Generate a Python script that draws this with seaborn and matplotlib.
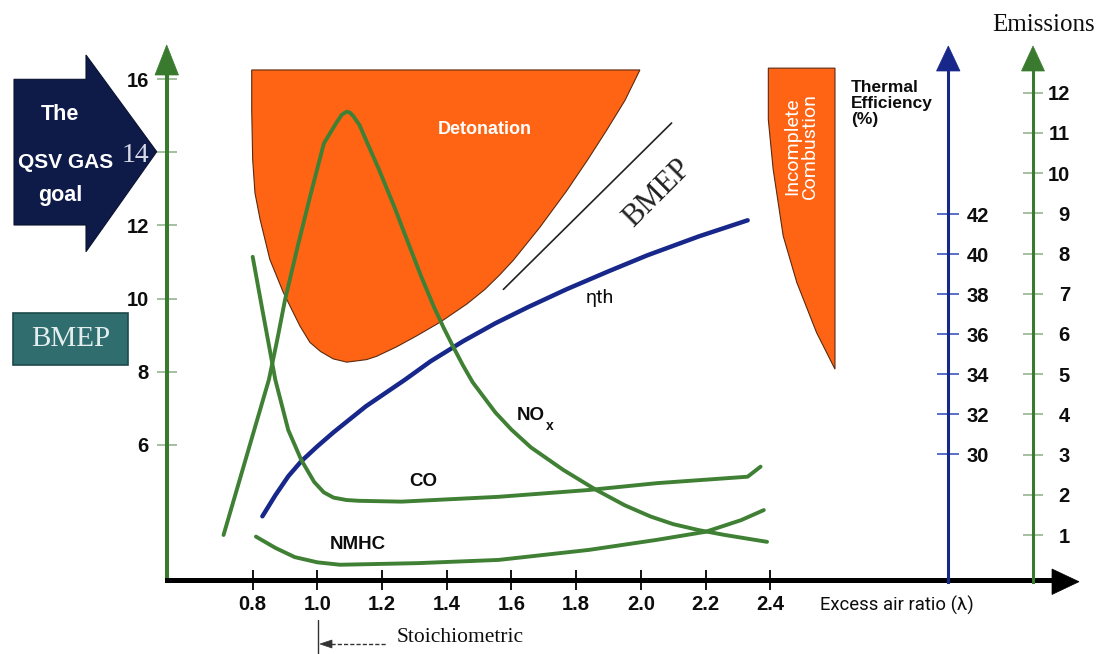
import matplotlib
matplotlib.use("Agg")
import matplotlib.pyplot as plt
import matplotlib.transforms as mtransforms
from matplotlib.patches import Polygon, Rectangle
import seaborn as sns

# ---------------- data ----------------
lam_ticks = [0.8, 1.0, 1.2, 1.4, 1.6, 1.8, 2.0, 2.2, 2.4]
bmep_ticks = [6, 8, 10, 12, 14, 16]
eff_ticks = [30, 32, 34, 36, 38, 40, 42]
em_ticks = [1, 2, 3, 4, 5, 6, 7, 8, 9, 10, 11, 12]

# thermal efficiency (%) vs excess air ratio
eta_lam = [0.83, 0.87, 0.91, 0.95, 1.00, 1.05, 1.15, 1.27, 1.35, 1.45, 1.55, 1.65, 1.77,
           1.90, 2.02, 2.18, 2.33]
eta_eff = [26.9, 27.95, 28.9, 29.65, 30.4, 31.1, 32.4, 33.72, 34.65, 35.65, 36.55, 37.35,
           38.25, 39.15, 39.95, 40.9, 41.7]

# emissions (relative units)
nox_lam = [0.71, 0.85, 0.875, 0.90, 0.94, 0.98, 1.02, 1.06, 1.075, 1.09, 1.10, 1.11, 1.13,
           1.15, 1.19, 1.24, 1.28, 1.32, 1.36, 1.39, 1.42, 1.45, 1.48, 1.55, 1.60, 1.66,
           1.76, 1.86, 1.95, 2.03, 2.10, 2.18, 2.26, 2.39]
nox_em = [1.00, 4.86, 5.82, 6.85, 8.21, 9.50, 10.74, 11.27, 11.45, 11.53, 11.51, 11.43, 11.20,
          10.83, 10.10, 9.12, 8.28, 7.45, 6.68, 6.16, 5.68, 5.22, 4.80, 4.05, 3.62, 3.18,
          2.62, 2.13, 1.74, 1.46, 1.27, 1.12, 1.00, 0.83]

co_lam = [0.80, 0.83, 0.87, 0.91, 0.95, 0.99, 1.02, 1.05, 1.09, 1.13, 1.26, 1.56, 1.84,
          2.05, 2.33, 2.37]
co_em = [7.92, 6.60, 4.86, 3.61, 2.87, 2.32, 2.06, 1.93, 1.87, 1.85, 1.83, 1.95, 2.12,
         2.29, 2.45, 2.70]

nmhc_lam = [0.81, 0.87, 0.93, 1.00, 1.07, 1.31, 1.56, 1.84, 2.05, 2.20, 2.31, 2.38]
nmhc_em = [0.96, 0.68, 0.45, 0.32, 0.26, 0.30, 0.38, 0.63, 0.88, 1.08, 1.37, 1.62]

# regions in BMEP units
deton_lam = [0.797, 0.797, 0.800, 0.807, 0.823, 0.853, 0.895, 0.946, 0.977, 1.010, 1.049,
             1.091, 1.152, 1.183, 1.245, 1.307, 1.379, 1.462, 1.518, 1.564, 1.606, 1.688,
             1.771, 1.836, 1.894, 1.951, 1.997]
deton_bmep = [16.25, 15.16, 13.80, 12.89, 12.16, 11.07, 10.16, 9.25, 8.80, 8.55, 8.35,
              8.26, 8.33, 8.42, 8.68, 8.98, 9.35, 9.85, 10.25, 10.65, 11.05, 11.95,
              12.95, 13.80, 14.60, 15.42, 16.25]

incomp_lam = [2.394, 2.600, 2.600, 2.543, 2.482, 2.440, 2.409, 2.394]
incomp_bmep = [16.30, 16.30, 8.07, 9.07, 10.44, 11.71, 13.53, 14.89]

bmep_line_lam = [1.575, 2.095]
bmep_line_val = [10.25, 14.80]

# ---------------- style ----------------
sns.set_theme(style="white")
COND = ["Roboto", "DejaVu Sans"]
SERIF = ["Liberation Serif", "DejaVu Serif"]
SANS = ["Liberation Sans", "DejaVu Sans"]
plt.rcParams["font.family"] = COND

GREEN_AX = "#3a7a2e"
GREEN = "#3f8034"
BLUE = "#17278a"
ORANGE = "#ff6414"
NAVY = "#0e1a48"
TEAL = "#2f6d6e"
INK = "#0d0d0d"

W, H = 1097, 654
fig = plt.figure(figsize=(W / 100, H / 100), dpi=100)
pix = mtransforms.Affine2D().scale(1 / W, -1 / H).translate(0, 1) + fig.transFigure

ax = fig.add_axes([0, 0, 1, 1])
ax2 = ax.twinx()
ax3 = ax.twinx()
for a in (ax, ax2, ax3):
    a.patch.set_visible(False)
    for s in a.spines.values():
        s.set_visible(False)

# ---------------- regions & lines ----------------
ax.fill(deton_lam, deton_bmep, facecolor=ORANGE, edgecolor="#5a2a10", lw=0.8, zorder=1)
ax.fill(incomp_lam, incomp_bmep, facecolor=ORANGE, edgecolor="#5a2a10", lw=0.8, zorder=1)
sns.lineplot(x=bmep_line_lam, y=bmep_line_val, ax=ax, color="#222222", lw=1.2,
             sort=False, estimator=None, legend=False)

sns.lineplot(x=eta_lam, y=eta_eff, ax=ax2, color=BLUE, lw=3.2, sort=False,
             estimator=None, legend=False)
for xs, ys in ((nox_lam, nox_em), (co_lam, co_em), (nmhc_lam, nmhc_em)):
    sns.lineplot(x=xs, y=ys, ax=ax3, color=GREEN, lw=2.8, sort=False,
                 estimator=None, legend=False)
for a in (ax2, ax3):
    for ln in a.get_lines():
        ln.set_solid_joinstyle("round")
        ln.set_solid_capstyle("round")

# ---------------- scales (calibrated to the picture) ----------------
ax.set_xlim(0.0189, 3.410)
ax.set_ylim(0.28, 18.163)
ax2.set_ylim(20.015, 52.715)
ax3.set_ylim(-1.960, 14.308)
for a in (ax, ax2, ax3):
    a.set_xlabel("")
    a.set_ylabel("")

TICKFONT = dict(fontfamily=SANS, fontweight="bold", fontsize=14.5, color=INK)

# main axes: lambda (bottom) and BMEP (left)
ax.spines["left"].set_visible(True)
ax.spines["left"].set_position(("data", 0.535))
ax.spines["left"].set_bounds(2.30, 16.17)
ax.spines["left"].set_color(GREEN_AX)
ax.spines["left"].set_linewidth(2.9)
ax.spines["bottom"].set_visible(True)
ax.spines["bottom"].set_position(("data", 2.30))
ax.spines["bottom"].set_bounds(0.535, 3.274)
ax.spines["bottom"].set_color("black")
ax.spines["bottom"].set_linewidth(3.6)

ax.set_xticks(lam_ticks, labels=[f"{v:.1f}" for v in lam_ticks], **TICKFONT)
ax.tick_params(axis="x", bottom=True, direction="inout", length=14, width=1.3,
               color="black", pad=4)
ax.set_yticks(bmep_ticks, labels=[str(v) for v in bmep_ticks], **TICKFONT)
ax.tick_params(axis="y", left=True, direction="inout", length=15, width=1.3,
               color="#9cbb98", pad=5.5)
lab14 = ax.get_yticklabels()[bmep_ticks.index(14)]
lab14.set_fontfamily(SERIF)
lab14.set_fontweight("normal")
lab14.set_fontsize(20)
lab14.set_color("#d6d9e6")

# thermal efficiency axis
ax2.spines["right"].set_visible(True)
ax2.spines["right"].set_position(("data", 2.949))
ax2.spines["right"].set_bounds(23.62, 49.2)
ax2.spines["right"].set_color(BLUE)
ax2.spines["right"].set_linewidth(2.2)
ax2.set_yticks(eff_ticks, labels=[str(v) for v in eff_ticks], **TICKFONT)
ax2.tick_params(axis="y", right=True, left=False, labelright=True, labelleft=False,
                direction="inout", length=16, width=1.3, color="#4a62c8", pad=5.5)

# emissions axis
ax3.spines["right"].set_visible(True)
ax3.spines["right"].set_position(("data", 3.212))
ax3.spines["right"].set_bounds(-0.16, 12.567)
ax3.spines["right"].set_color(GREEN_AX)
ax3.spines["right"].set_linewidth(2.2)
ax3.set_yticks(em_ticks, labels=[str(v) for v in em_ticks], ha="right", **TICKFONT)
ax3.tick_params(axis="y", right=True, left=False, labelright=True, labelleft=False,
                direction="inout", length=14.4, width=1.3, color="#9cbb98", pad=19.4)
for a in (ax2, ax3):
    a.tick_params(axis="x", bottom=False, labelbottom=False)

# ---------------- arrowheads & decorations (pixel layout) ----------------
def poly(pts, color, z=3):
    ax.add_patch(Polygon(pts, closed=True, transform=pix, facecolor=color,
                         edgecolor=color, lw=0.5, zorder=z, clip_on=False))

poly([(155, 75), (166.7, 45), (178.5, 75)], GREEN_AX)
poly([(936.5, 71), (948.3, 46), (960, 71)], BLUE)
poly([(1021.5, 71), (1033, 46), (1044.5, 71)], GREEN_AX)
poly([(1052, 569), (1079, 581.7), (1052, 594.5)], "black")

# navy "goal" arrow and BMEP box
ax.add_patch(Polygon([(14, 79.3), (86, 79.3), (86, 55), (156.7, 151.7), (86, 251.7),
                      (86, 225), (14, 225)], closed=True, transform=pix,
                     facecolor=NAVY, edgecolor="#0a1230", lw=0.8, zorder=0.2, clip_on=False))
ax.add_patch(Rectangle((12.7, 312.7), 115.6, 52.3, transform=pix, facecolor=TEAL,
                       edgecolor="#1d4a4a", lw=1.2, zorder=0.2, clip_on=False))

def txt(x, y, s, **kw):
    kw.setdefault("ha", "center")
    kw.setdefault("va", "center")
    return ax.text(x, y, s, transform=pix, **kw)

txt(60, 114, "The", color="white", fontsize=15.5, fontweight="bold", family=SANS)
txt(66, 163, "QSV GAS", color="white", fontsize=15, fontweight="bold", family=SANS)
txt(60, 196, "goal", color="white", fontsize=15.5, fontweight="bold", family=SANS)
txt(70.5, 339, "BMEP", color="#e4eeee", fontsize=21, family=SERIF)

# stoichiometric marker
ax.plot([318.3, 318.3], [620, 654], transform=pix, color="#333333", lw=1.0, clip_on=False)
ax.plot([331, 387], [644, 644], transform=pix, color="#333333", lw=1.0,
        ls=(0, (3, 1.5)), clip_on=False)
poly([(320, 644), (332, 640), (332, 648)], "#333333")
txt(397, 638, "Stoichiometric", ha="left", fontsize=15.5, family=SERIF, color=INK)

# labels
txt(820, 605, "Excess air ratio (\u03bb)", ha="left", fontsize=13.3, color=INK)
txt(1044, 25, "Emissions", fontsize=18, family=SERIF, color=INK)
txt(851, 80, "Thermal\nEfficiency\n(%)", ha="left", va="top", fontsize=12.5,
    fontweight="bold", family=SANS, linespacing=1.1, color=INK)
txt(485, 129, "Detonation", color="white", fontsize=13, fontweight="bold", family=SANS)
txt(801, 146, "Incomplete\nCombustion", color="white", fontsize=14, rotation=90,
    linespacing=1.0)
txt(657, 193, "BMEP", rotation=45, fontsize=22, family=SERIF, color="#222222")
txt(600, 298, "\u03b7th", fontsize=14, color=INK)
txt(531, 415, "NO", fontsize=13.5, fontweight="bold", family=SANS, color=INK)
txt(546, 426, "x", ha="left", fontsize=10, fontweight="bold", family=SANS, color=INK)
txt(423, 481.7, "CO", fontsize=13.5, fontweight="bold", family=SANS, color=INK)
txt(358, 544.5, "NMHC", fontsize=13.5, fontweight="bold", family=SANS, color=INK)

fig.savefig("out.png", dpi=100)
